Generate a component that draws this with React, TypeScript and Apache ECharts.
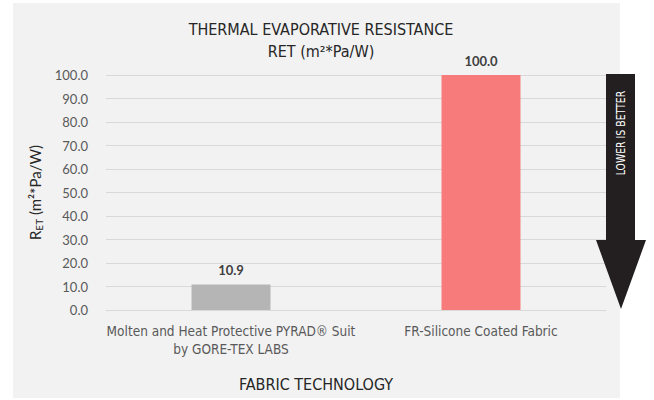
import React, { useEffect, useRef } from "react";
import * as echarts from "echarts";

const categories = [
  "Molten and Heat Protective PYRAD® Suit\nby GORE-TEX LABS",
  "FR-Silicone Coated Fabric",
];
const retValues = [10.9, 100.0];
const barColors = ["#b5b5b5", "#f77b7b"];
const titleLines = ["THERMAL EVAPORATIVE RESISTANCE", "RET (m²*Pa/W)"];
const xAxisTitle = "FABRIC TECHNOLOGY";
const arrowText = "LOWER IS BETTER";

const COND = "'Liberation Sans Narrow', 'DejaVu Sans Condensed', 'Roboto', sans-serif";
const NUM = "Lato, 'Noto Sans', sans-serif";

export default function App() {
  const ref = useRef<HTMLDivElement>(null);
  useEffect(() => {
    document.body.style.margin = "0";
    const chart = echarts.init(ref.current!, null, { renderer: "svg" });
    chart.setOption({
      animation: false,
      backgroundColor: "#ffffff",
      title: {
        text: titleLines.join("\n"),
        left: 316,
        textAlign: "center",
        top: 13,
        textStyle: {
          fontFamily: COND,
          fontSize: 16,
          fontWeight: "normal",
          color: "#262626",
          lineHeight: 22,
        },
      },
      grid: { left: 106, right: 48, top: 75, bottom: 90 },
      xAxis: {
        type: "category",
        data: categories,
        axisLine: { lineStyle: { color: "#d9d9d9" } },
        axisTick: { show: false },
        axisLabel: {
          fontFamily: COND,
          fontSize: 13.5,
          color: "#595959",
          lineHeight: 18,
          margin: 12,
          interval: 0,
        },
      },
      yAxis: {
        type: "value",
        min: 0,
        max: 100,
        interval: 10,
        name: "R{sub|ET} (m²*Pa/W)",
        nameLocation: "middle",
        nameRotate: 90,
        nameGap: 58,
        nameTextStyle: {
          fontFamily: NUM,
          fontSize: 15,
          color: "#262626",
          rich: {
            sub: { fontFamily: NUM, fontSize: 10, color: "#262626", padding: [7, 0, 0, 0] },
          },
        },
        axisLine: { show: false },
        axisTick: { show: false },
        axisLabel: {
          fontFamily: NUM,
          fontSize: 13,
          color: "#595959",
          margin: 18,
          formatter: (v: number) => v.toFixed(1),
        },
        splitLine: { lineStyle: { color: "#d9d9d9" } },
      },
      series: [
        {
          type: "bar",
          data: retValues.map((v, i) => ({ value: v, itemStyle: { color: barColors[i] } })),
          barWidth: 79,
          label: {
            show: true,
            position: "top",
            distance: 8,
            fontFamily: NUM,
            fontWeight: "bold",
            fontSize: 13,
            color: "#404040",
            formatter: (p: any) => Number(p.value).toFixed(1),
          },
        },
      ],
      graphic: [
        {
          type: "rect",
          z: -100,
          silent: true,
          shape: { x: 13, y: 3, width: 607, height: 395 },
          style: { fill: "#f2f2f2" },
        },
        {
          type: "text",
          x: 316,
          y: 384,
          style: {
            text: xAxisTitle,
            fontFamily: COND,
            fontSize: 16,
            fill: "#262626",
            align: "center",
            verticalAlign: "middle",
          },
        },
        {
          type: "polygon",
          z: 100,
          shape: {
            points: [
              [606, 74],
              [635, 74],
              [635, 240],
              [646, 240],
              [621, 309],
              [596, 240],
              [606, 240],
            ],
          },
          style: { fill: "#231f20" },
        },
        {
          type: "text",
          z: 101,
          x: 621,
          y: 133,
          rotation: Math.PI / 2,
          scaleX: 0.8,
          style: {
            text: arrowText,
            fontFamily: COND,
            fontSize: 13,
            fill: "#ffffff",
            align: "center",
            verticalAlign: "middle",
          },
        },
      ],
    });
    return () => chart.dispose();
  }, []);
  return <div ref={ref} style={{ width: 654, height: 400 }} />;
}
